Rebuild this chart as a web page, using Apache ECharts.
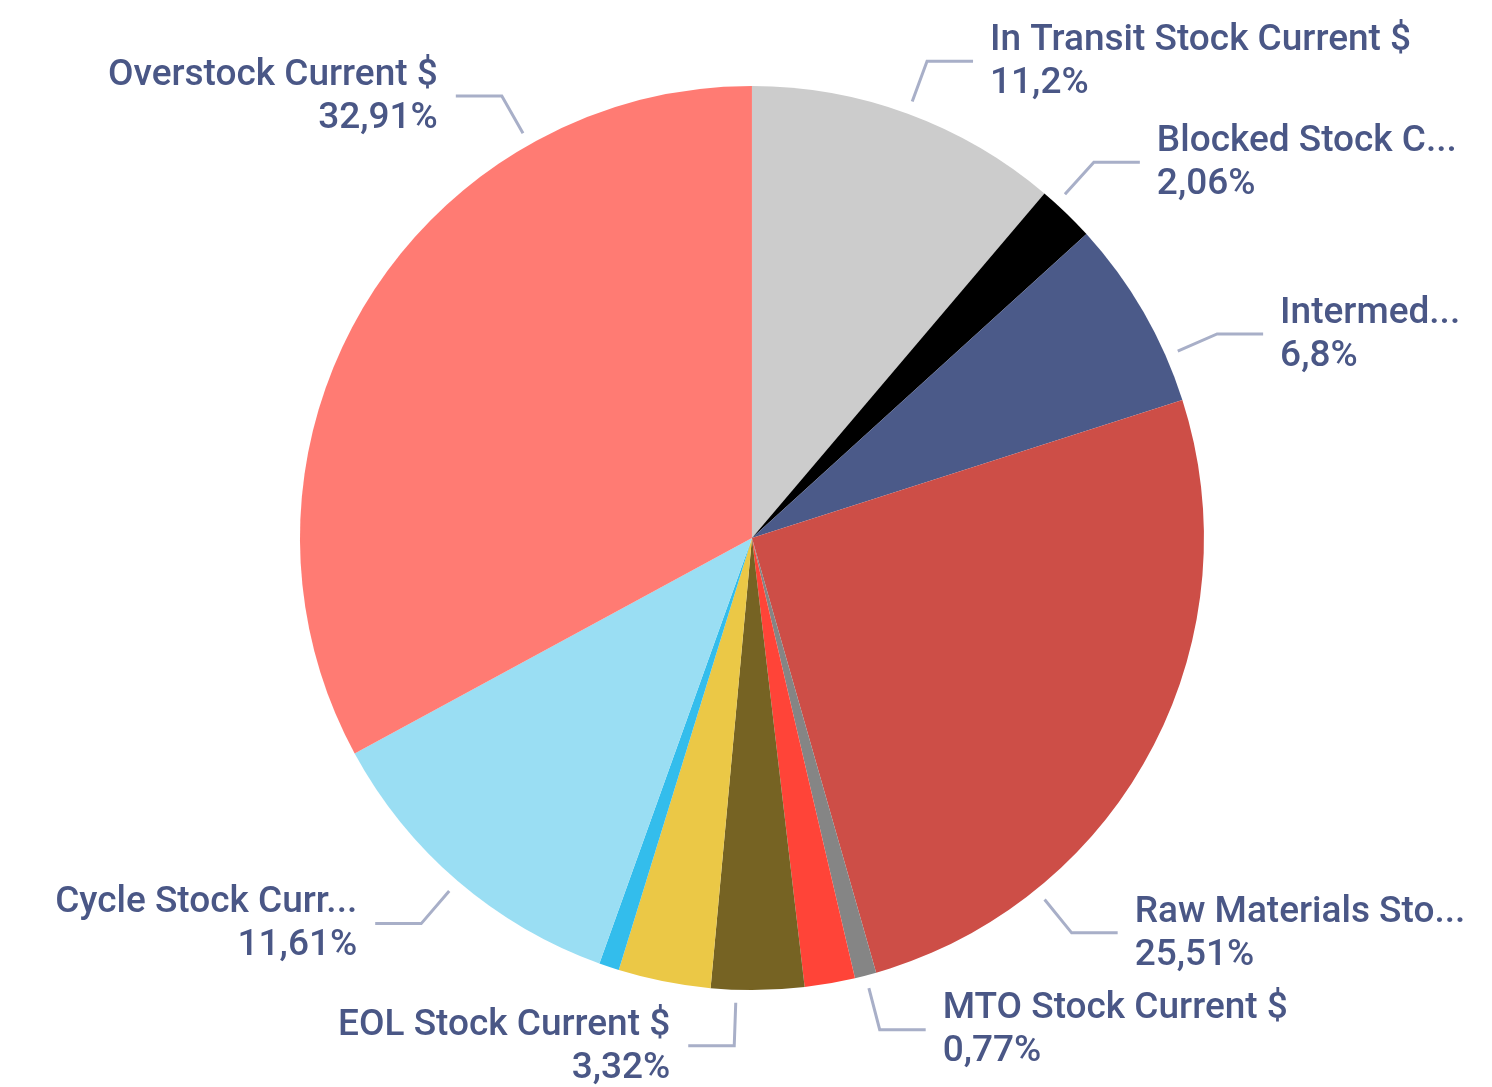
<!DOCTYPE html>
<html>
<head>
<meta charset="UTF-8">
<title>Stock share</title>
<script src="https://cdn.jsdelivr.net/npm/echarts@6/dist/echarts.min.js"></script>
<style>
  html, body { margin: 0; padding: 0; background: #fff; }
  #main { width: 1492px; height: 1087px; }
</style>
</head>
<body>
<div id="main"></div>
<script>
// slices, clockwise from 12 o'clock
var categories = ['In Transit Stock Current $', 'Blocked Stock Current $', 'Intermediate Stock Current $',
  'Raw Materials Stock Current $', 'MTO Stock Current $', 'Other Stock A', 'EOL Stock Current $',
  'Other Stock B', 'Other Stock C', 'Cycle Stock Current $', 'Overstock Current $'];
var shares = [11.2, 2.06, 6.8, 25.51, 0.77, 1.8, 3.32, 3.3, 0.72, 11.61, 32.91];
// text as shown next to each slice (null = no label)
var labelNames = ['In Transit Stock Current $', 'Blocked Stock C...', 'Intermed...', 'Raw Materials Sto...',
  'MTO Stock Current $', null, 'EOL Stock Current $', null, null, 'Cycle Stock Curr...', 'Overstock Current $'];
var colors = ['#CCCCCC', '#000000', '#4B5A89', '#CD4E47', '#858585', '#FF4438', '#766323',
  '#EBC846', '#33BDEC', '#9ADEF3', '#FF7B73'];
// leader line direction (deg clockwise from top); null = middle of slice
var leaderAngle = [null, 42.3, 66.3, 141, null, null, 182, null, null, null, 330.5];

var R = 452;
var chart = echarts.init(document.getElementById('main'), null, { renderer: 'canvas' });

var total = shares.reduce(function (a, b) { return a + b; }, 0);

function fmt(v) {
  return String(v).replace('.', ',');
}

var data = shares.map(function (v, i) {
  return {
    name: categories[i],
    value: v,
    itemStyle: { color: colors[i] },
    label: { show: labelNames[i] != null },
    labelLine: { show: labelNames[i] != null }
  };
});

chart.setOption({
  animation: false,
  backgroundColor: '#fff',
  series: [{
    type: 'pie',
    center: ['50.4%', '49.5%'],
    radius: R,
    startAngle: 90,
    clockwise: true,
    avoidLabelOverlap: false,
    silent: true,
    data: data,
    label: {
      show: true,
      position: 'outside',
      overflow: 'none',
      fontFamily: 'Roboto',
      fontWeight: 500,
      fontSize: 37,
      lineHeight: 43,
      color: '#4A5786',
      formatter: function (p) {
        return labelNames[p.dataIndex] + '\n' + fmt(p.percent) + '%';
      }
    },
    labelLine: {
      show: true,
      lineStyle: { color: '#A8AFC8', width: 3 }
    },
    labelLayout: function (p) {
      var i = p.dataIndex;
      if (labelNames[i] == null) return;
      var cx = chart.getWidth() * 0.504, cy = chart.getHeight() * 0.495;
      var a = leaderAngle[i];
      if (a == null) {
        var before = 0;
        for (var k = 0; k < i; k++) before += shares[k];
        a = (before + shares[i] / 2) / total * 360;
      }
      var rad = a * Math.PI / 180;
      var pt = function (r) { return [cx + r * Math.sin(rad), cy - r * Math.cos(rad)]; };
      var p0 = pt(R + 13), p1 = pt(R + 56);
      var right = Math.sin(rad) >= 0;
      var p2 = [p1[0] + (right ? 46 : -46), p1[1]];
      return {
        x: p2[0] + (right ? 17 : -18),
        y: p2[1] + 1,
        align: right ? 'left' : 'right',
        verticalAlign: 'middle',
        labelLinePoints: [p0, p1, p2]
      };
    }
  }]
});
</script>
</body>
</html>
